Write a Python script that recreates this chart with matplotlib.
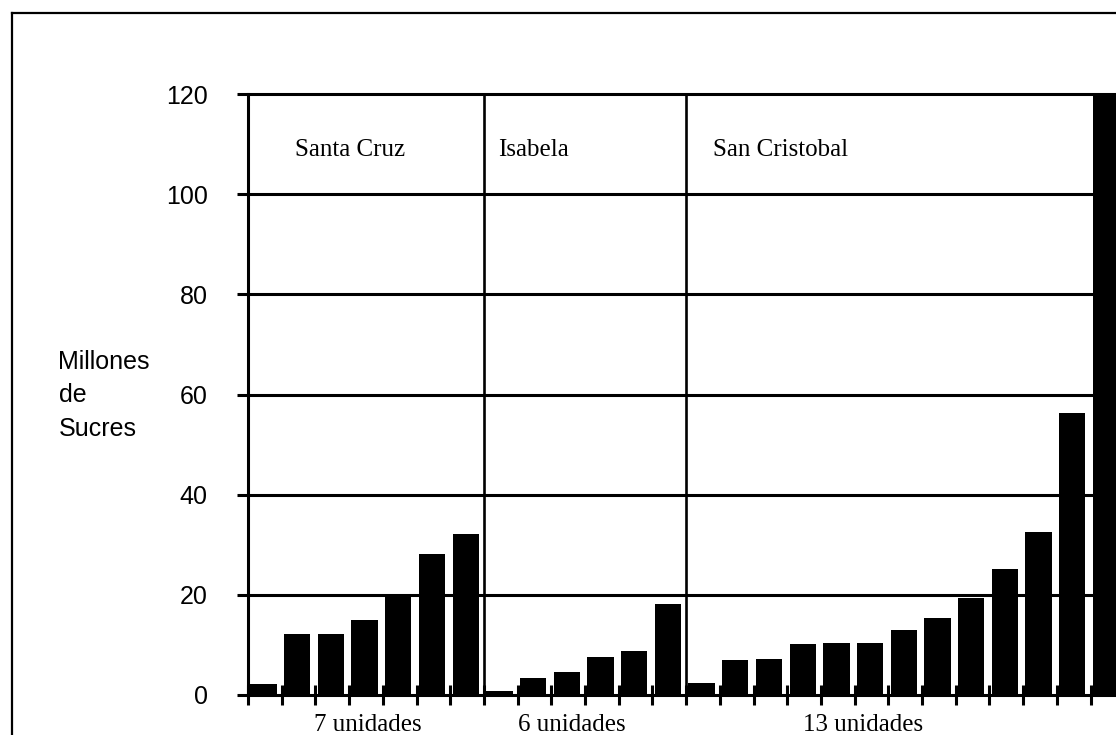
import matplotlib
matplotlib.use('Agg')
import matplotlib.pyplot as plt
from matplotlib.lines import Line2D
import numpy as np

# ---- data ----
groups = ["Santa Cruz", "Isabela", "San Cristobal"]
group_counts = [7, 6, 13]
group_notes = ["7 unidades", "6 unidades", "13 unidades"]
santa_cruz = [2.2, 12.1, 12.1, 15.0, 20.0, 28.1, 32.2]
isabela = [0.8, 3.3, 4.5, 7.6, 8.7, 18.1]
san_cristobal = [2.3, 7.0, 7.1, 10.2, 10.3, 10.3, 13.0, 15.3, 19.3, 25.1, 32.6, 56.3, 135.0]
y_ticks = [0, 20, 40, 60, 80, 100, 120]
y_label = "Millones\nde\nSucres"

values = santa_cruz + isabela + san_cristobal

W, H = 1116, 735
fig = plt.figure(figsize=(W / 100, H / 100), dpi=100)
left_px, base_px, top_px = 248, 695, 94
cat_px = 33.7
ax = fig.add_axes([left_px / W, (H - base_px) / H, 1 - left_px / W, (base_px - top_px) / H])

n = len(values)
x = np.arange(n) + 0.46
ax.bar(x, values, width=0.78, color='black', zorder=2)

xmax = (W - left_px) / cat_px
ax.set_xlim(0, xmax)
ax.set_ylim(0, 120)

# gridlines & dividers
ax.hlines(y_ticks[1:], 0, xmax, colors='black', lw=2.2, clip_on=False, zorder=3)
bounds = np.cumsum(group_counts)[:-1]
ax.vlines(bounds, 0, 120, colors='black', lw=1.9, zorder=3)

for s in ['top', 'right']:
    ax.spines[s].set_visible(False)
ax.spines['left'].set_linewidth(2.2)
ax.spines['bottom'].set_linewidth(2.2)

ax.set_yticks(y_ticks)
ax.set_yticklabels([str(v) for v in y_ticks], fontfamily='Liberation Sans', fontsize=18)
ax.tick_params(axis='y', direction='out', length=8, width=2.2, pad=21)
ax.set_xticks(np.arange(0, n))
ax.set_xticklabels([])
ax.tick_params(axis='x', direction='inout', length=14, width=2.2)

# group labels
starts = np.concatenate([[0], bounds])
offsets = [1.39, 0.42, 0.8]
for s, off, name in zip(starts, offsets, groups):
    ax.text(s + off, 108.8, name, fontfamily='Liberation Serif', fontsize=18,
            ha='left', va='center')

note_x = [3.56, 9.61, 18.25]
for nx, note in zip(note_x, group_notes):
    ax.text(nx, -6.0, note, fontfamily='Liberation Serif', fontsize=18,
            ha='center', va='center', clip_on=False)

# y label
fig.text(150 / W, 1 - 395 / H, y_label, fontfamily='Liberation Sans', fontsize=18,
         ha='right', va='center', multialignment='left', linespacing=1.5)

# outer frame
fig.add_artist(Line2D([12 / W, 1], [1 - 13 / H, 1 - 13 / H], color='black', lw=1.6))
fig.add_artist(Line2D([12 / W, 12 / W], [0, 1 - 13 / H], color='black', lw=1.6))

fig.savefig('out.png', dpi=100, facecolor='white')
